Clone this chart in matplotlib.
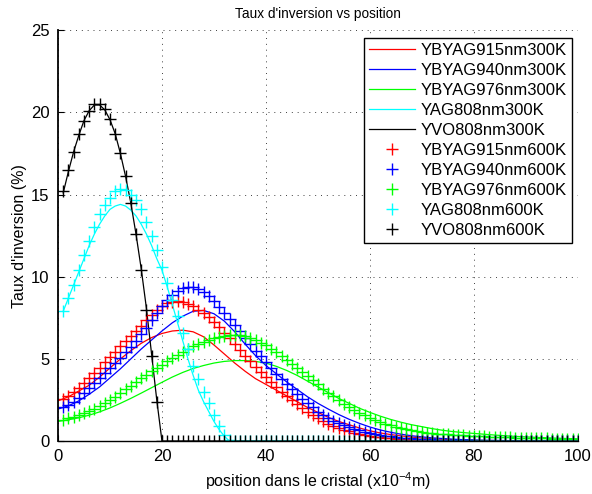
import numpy as np
import matplotlib
matplotlib.use('Agg')
import matplotlib.pyplot as plt

plt.rcParams['font.family'] = ['Liberation Sans', 'DejaVu Sans']
plt.rcParams['mathtext.fontset'] = 'custom'
plt.rcParams['mathtext.rm'] = 'Liberation Sans'

# x positions (x10^-4 m)
x_coarse = np.arange(0, 101, 2)
x_fine = np.arange(1, 101)

# 300K curves (lines)
ybyag915_300 = [2.45, 2.7, 3.05, 3.4, 3.9, 4.45, 5.0, 5.5, 5.95, 6.3, 6.55, 6.7, 6.75, 6.65, 6.35, 5.85, 5.3,
                4.75, 4.25, 3.8, 3.45, 3.1, 2.75, 2.4, 2.05, 1.75, 1.45, 1.2, 1.0, 0.8, 0.63, 0.5, 0.4, 0.32,
                0.25, 0.19, 0.15, 0.12, 0.09, 0.07, 0.05, 0.04, 0.035, 0.03, 0.025, 0.02, 0.018, 0.016, 0.014,
                0.012, 0.01]
ybyag940_300 = [1.95, 2.15, 2.45, 2.85, 3.3, 3.85, 4.4, 5.0, 5.6, 6.15, 6.7, 7.2, 7.6, 7.9, 7.95, 7.75, 7.3,
                6.65, 5.9, 5.2, 4.6, 4.1, 3.6, 3.15, 2.7, 2.3, 1.95, 1.62, 1.33, 1.08, 0.86, 0.68, 0.54, 0.42,
                0.33, 0.26, 0.2, 0.16, 0.12, 0.09, 0.07, 0.055, 0.045, 0.036, 0.03, 0.025, 0.02, 0.017, 0.014,
                0.012, 0.01]
ybyag976_300 = [1.2, 1.3, 1.42, 1.58, 1.78, 2.02, 2.3, 2.6, 2.92, 3.25, 3.58, 3.9, 4.18, 4.42, 4.6, 4.75, 4.85,
                4.9, 4.9, 4.85, 4.75, 4.55, 4.3, 4.0, 3.65, 3.3, 2.95, 2.6, 2.3, 2.0, 1.75, 1.52, 1.32, 1.15,
                1.0, 0.88, 0.76, 0.66, 0.58, 0.52, 0.47, 0.42, 0.37, 0.33, 0.29, 0.26, 0.23, 0.2, 0.18, 0.16,
                0.14]
yag808_300 = [7.9, 8.7, 9.5, 10.3, 11.1, 11.9, 12.6, 13.2, 13.7, 14.1, 14.3, 14.4, 14.3, 14.05, 13.7, 13.2,
              12.6, 11.9, 11.1, 10.4, 9.4, 8.3, 7.2, 6.1, 5.0, 4.0, 3.1, 2.4, 1.8, 1.2, 0.7, 0.3, 0.0] + [0.0] * 67
yvo808_300 = [15.1, 16.4, 17.6, 18.6, 19.5, 20.1, 20.45, 20.45, 20.15, 19.55, 18.7, 17.5, 16.1, 14.5, 12.6,
              10.5, 8.1, 5.3, 2.5, 0.0] + [0.0] * 80

# 600K curves (markers)
ybyag915_600 = [2.55, 2.75, 3.0, 3.25, 3.55, 3.85, 4.15, 4.45, 4.8, 5.1,
                5.45, 5.8, 6.1, 6.4, 6.7, 7.0, 7.35, 7.7, 8.0, 8.25,
                8.4, 8.48, 8.5, 8.45, 8.35, 8.2, 8.0, 7.8, 7.55, 7.25,
                6.95, 6.6, 6.25, 5.9, 5.55, 5.2, 4.85, 4.5, 4.2, 3.9,
                3.6, 3.3, 3.0, 2.75, 2.5, 2.25, 2.0, 1.8, 1.6, 1.4,
                1.22, 1.06, 0.92, 0.8, 0.69, 0.6, 0.52, 0.45, 0.38, 0.33,
                0.28, 0.24, 0.21, 0.18, 0.15, 0.13, 0.11, 0.09, 0.08, 0.07,
                0.06, 0.055, 0.05, 0.045, 0.04, 0.036, 0.032, 0.029, 0.026, 0.023,
                0.021, 0.019, 0.017, 0.015, 0.014, 0.013, 0.012, 0.011, 0.01, 0.009,
                0.008, 0.008, 0.007, 0.007, 0.006, 0.006, 0.005, 0.005, 0.005, 0.004]
ybyag940_600 = [2.05, 2.2, 2.4, 2.65, 2.95, 3.25, 3.55, 3.85, 4.15, 4.45,
                4.75, 5.05, 5.4, 5.75, 6.1, 6.5, 6.9, 7.35, 7.8, 8.2,
                8.6, 8.9, 9.15, 9.3, 9.35, 9.35, 9.25, 9.05, 8.8, 8.5,
                8.15, 7.8, 7.45, 7.05, 6.7, 6.3, 5.9, 5.5, 5.15, 4.8,
                4.45, 4.1, 3.8, 3.45, 3.15, 2.85, 2.55, 2.3, 2.05, 1.8,
                1.6, 1.42, 1.25, 1.1, 0.97, 0.85, 0.75, 0.66, 0.57, 0.5,
                0.44, 0.38, 0.33, 0.29, 0.25, 0.22, 0.19, 0.17, 0.15, 0.13,
                0.115, 0.1, 0.09, 0.08, 0.07, 0.062, 0.055, 0.049, 0.044, 0.039,
                0.035, 0.031, 0.028, 0.025, 0.022, 0.02, 0.018, 0.016, 0.014, 0.013,
                0.012, 0.011, 0.01, 0.009, 0.008, 0.007, 0.007, 0.006, 0.006, 0.005]
ybyag976_600 = [1.3, 1.38, 1.47, 1.58, 1.7, 1.83, 1.98, 2.14, 2.32, 2.5,
                2.7, 2.92, 3.15, 3.38, 3.6, 3.82, 4.04, 4.25, 4.46, 4.66,
                4.86, 5.06, 5.25, 5.43, 5.6, 5.76, 5.9, 6.03, 6.15, 6.25,
                6.33, 6.4, 6.44, 6.45, 6.43, 6.37, 6.28, 6.15, 6.0, 5.83,
                5.6, 5.4, 5.18, 4.95, 4.7, 4.45, 4.2, 3.95, 3.7, 3.45,
                3.2, 2.95, 2.72, 2.5, 2.28, 2.08, 1.9, 1.72, 1.56, 1.42,
                1.29, 1.17, 1.06, 0.96, 0.87, 0.79, 0.72, 0.66, 0.6, 0.55,
                0.52, 0.49, 0.46, 0.44, 0.42, 0.4, 0.38, 0.36, 0.34, 0.32,
                0.3, 0.29, 0.27, 0.26, 0.25, 0.24, 0.23, 0.22, 0.21, 0.2,
                0.19, 0.18, 0.17, 0.165, 0.16, 0.15, 0.14, 0.135, 0.13, 0.12]
yag808_600 = [7.9, 8.7, 9.5, 10.4, 11.3, 12.2, 13.0, 13.8, 14.35, 14.8, 15.2, 15.35, 15.3, 15.0, 14.65, 14.1,
              13.3, 12.5, 11.6, 10.6, 9.6, 8.6, 7.6, 6.6, 5.6, 4.6, 3.8, 3.0, 2.3, 1.6, 0.9, 0.4, 0.05] + [0.0] * 67
yvo808_600 = [15.2, 16.5, 17.6, 18.7, 19.5, 20.1, 20.5, 20.5, 20.2, 19.6, 18.7, 17.5, 16.1, 14.5, 12.6,
              10.4, 8.0, 5.2, 2.4, 0.0] + [0.0] * 80

labels_300 = ['YBYAG915nm300K', 'YBYAG940nm300K', 'YBYAG976nm300K', 'YAG808nm300K', 'YVO808nm300K']
labels_600 = ['YBYAG915nm600K', 'YBYAG940nm600K', 'YBYAG976nm600K', 'YAG808nm600K', 'YVO808nm600K']
colors = ['#ff0000', '#0000ff', '#00ff00', '#00ffff', '#000000']

fig = plt.figure(figsize=(5.92, 4.94), dpi=100, facecolor='white')
ax = fig.add_axes([0.098, 0.107, 0.878, 0.832])

lines_300 = [(x_coarse, ybyag915_300), (x_coarse, ybyag940_300), (x_coarse, ybyag976_300),
             (x_fine, yag808_300), (x_fine, yvo808_300)]
for (xs, ys), c, lab in zip(lines_300, colors, labels_300):
    ax.plot(xs, ys, '-', color=c, lw=0.9, label=lab)

pts_600 = [ybyag915_600, ybyag940_600, ybyag976_600, yag808_600, yvo808_600]
for ys, c, lab in zip(pts_600, colors, labels_600):
    ax.plot(x_fine, ys, '+', color=c, ms=8.5, mew=1.0, label=lab)

ax.set_xlim(0, 100)
ax.set_ylim(0, 25)
ax.set_xticks([0, 20, 40, 60, 80, 100])
ax.set_yticks([0, 5, 10, 15, 20, 25])
ax.grid(True, color='0.25', linestyle=(0, (1, 5)), linewidth=0.7)

ax.spines['top'].set_visible(False)
ax.spines['right'].set_visible(False)
ax.spines['left'].set_linewidth(1.3)
ax.spines['bottom'].set_linewidth(1.0)
ax.tick_params(direction='in', length=4, labelsize=12, pad=6)

ax.set_title("Taux d'inversion vs position", fontsize=9.8, pad=9)
ax.set_xlabel(r'position dans le cristal (x10$^{\mathregular{-4}}$m)', fontsize=11.5, labelpad=4)
ax.set_ylabel("Taux d'inversion (%)", fontsize=11.5, labelpad=3)

leg = ax.legend(loc='upper right', bbox_to_anchor=(0.988, 0.982), fontsize=12, numpoints=1,
                handlelength=2.8, handletextpad=0.3, labelspacing=0.3, borderpad=0.3,
                borderaxespad=0, fancybox=False, framealpha=1, edgecolor='black')
leg.get_frame().set_linewidth(1.0)

plt.savefig('out.png', dpi=100)
plt.close()
